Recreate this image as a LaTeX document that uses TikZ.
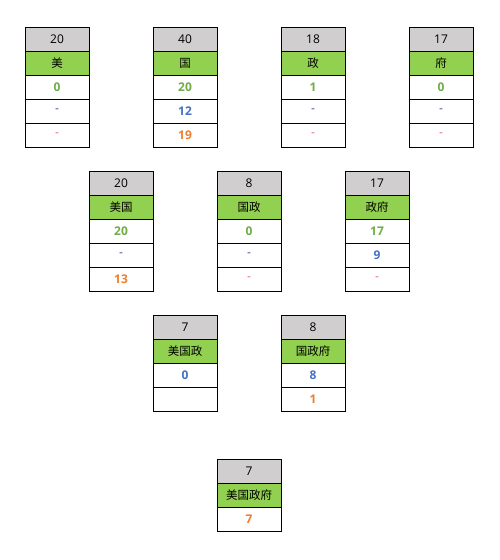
\documentclass[tikz,border=0pt]{standalone}
\usepackage{fontspec}
\setmainfont{Open Sans}
\newfontfamily\cjk{Noto Sans CJK SC}
\usetikzlibrary{positioning}
\definecolor{hdrgray}{HTML}{D0CECE}
\definecolor{namegreen}{HTML}{92D050}
\definecolor{tgreen}{HTML}{70AD47}
\definecolor{tblue}{HTML}{4472C4}
\definecolor{torange}{HTML}{ED7D31}
\tikzset{
  cellbox/.style={draw=black, line width=0.9pt, minimum width=64pt, minimum height=24pt,
    inner sep=0pt, outer sep=0pt, anchor=north, font=\fontsize{12pt}{14pt}\selectfont},
  hdr/.style={cellbox, fill=hdrgray},
  nm/.style={cellbox, fill=namegreen, font=\fontsize{11.5pt}{14pt}\selectfont\cjk},
  gv/.style={cellbox, fill=white, text=tgreen, font=\fontsize{12pt}{14pt}\selectfont\bfseries},
  bv/.style={cellbox, fill=white, text=tblue, font=\fontsize{12pt}{14pt}\selectfont\bfseries},
  ov/.style={cellbox, fill=white, text=torange, font=\fontsize{12pt}{14pt}\selectfont\bfseries},
  bd/.style={cellbox, fill=white, text=tblue!70!black},
  od/.style={cellbox, fill=white, text=torange!75!magenta},
}
\begin{document}
\begin{tikzpicture}[x=1pt,y=-1pt]
\useasboundingbox (0,0) rectangle (500,560);
% row 1
\node[hdr] (a1) at (57,27) {20};
\node[nm, below=0pt of a1] (a2) {美};
\node[gv, below=0pt of a2] (a3) {0};
\node[bd, below=0pt of a3] (a4) {-};
\node[od, below=0pt of a4] (a5) {-};

\node[hdr] (b1) at (185,27) {40};
\node[nm, below=0pt of b1] (b2) {国};
\node[gv, below=0pt of b2] (b3) {20};
\node[bv, below=0pt of b3] (b4) {12};
\node[ov, below=0pt of b4] (b5) {19};

\node[hdr] (c1) at (313,27) {18};
\node[nm, below=0pt of c1] (c2) {政};
\node[gv, below=0pt of c2] (c3) {1};
\node[bd, below=0pt of c3] (c4) {-};
\node[od, below=0pt of c4] (c5) {-};

\node[hdr] (d1) at (441,27) {17};
\node[nm, below=0pt of d1] (d2) {府};
\node[gv, below=0pt of d2] (d3) {0};
\node[bd, below=0pt of d3] (d4) {-};
\node[od, below=0pt of d4] (d5) {-};
% row 2
\node[hdr] (e1) at (121,171) {20};
\node[nm, below=0pt of e1] (e2) {美国};
\node[gv, below=0pt of e2] (e3) {20};
\node[bd, below=0pt of e3] (e4) {-};
\node[ov, below=0pt of e4] (e5) {13};

\node[hdr] (f1) at (249,171) {8};
\node[nm, below=0pt of f1] (f2) {国政};
\node[gv, below=0pt of f2] (f3) {0};
\node[bd, below=0pt of f3] (f4) {-};
\node[od, below=0pt of f4] (f5) {-};

\node[hdr] (g1) at (377,171) {17};
\node[nm, below=0pt of g1] (g2) {政府};
\node[gv, below=0pt of g2] (g3) {17};
\node[bv, below=0pt of g3] (g4) {9};
\node[od, below=0pt of g4] (g5) {-};
% row 3
\node[hdr] (h1) at (185,315) {7};
\node[nm, below=0pt of h1] (h2) {美国政};
\node[bv, below=0pt of h2] (h3) {0};
\node[ov, below=0pt of h3] (h4) {};

\node[hdr] (i1) at (313,315) {8};
\node[nm, below=0pt of i1] (i2) {国政府};
\node[bv, below=0pt of i2] (i3) {8};
\node[ov, below=0pt of i3] (i4) {1};
% row 4
\node[hdr] (j1) at (249,459) {7};
\node[nm, below=0pt of j1] (j2) {美国政府};
\node[ov, below=0pt of j2] (j3) {7};
\end{tikzpicture}
\end{document}
